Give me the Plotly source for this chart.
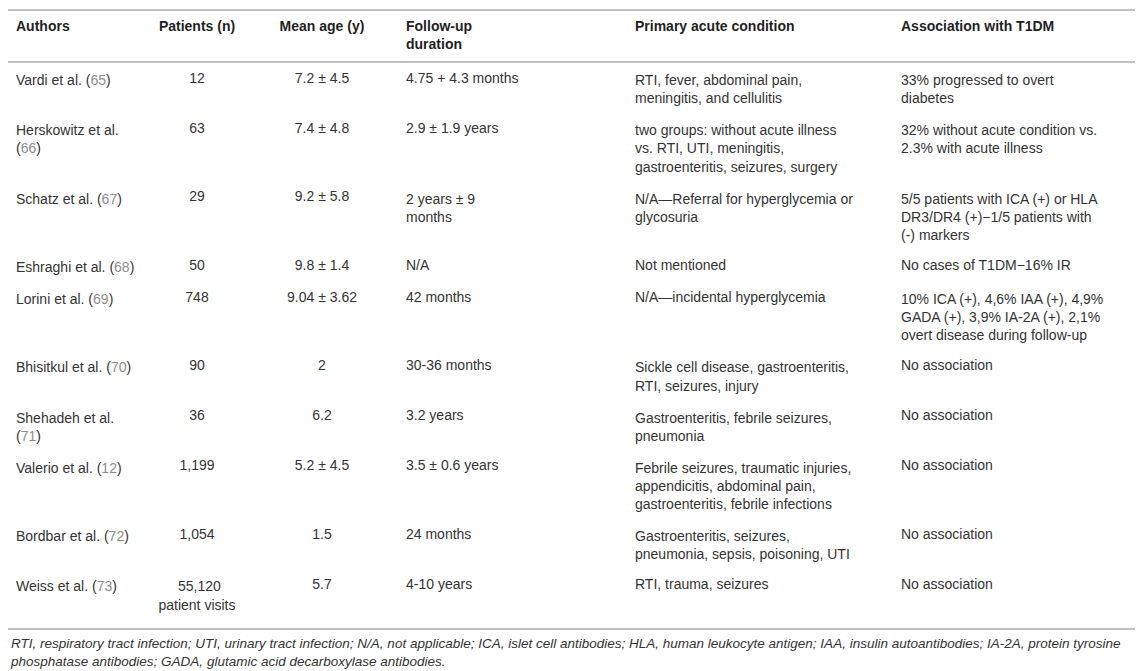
import plotly.graph_objects as go

# column headers
headers = [
    "Authors",
    "Patients (n)",
    "Mean age (y)",
    "Follow-up<br>duration",
    "Primary acute condition",
    "Association with T1DM",
]

authors = ["Vardi et al.", "Herskowitz et al.", "Schatz et al.", "Eshraghi et al.", "Lorini et al.",
           "Bhisitkul et al.", "Shehadeh et al.", "Valerio et al.", "Bordbar et al.", "Weiss et al."]
refs = ["65", "66", "67", "68", "69", "70", "71", "12", "72", "73"]
# authors that wrap the reference onto a second line
wrap_ref = [False, True, False, False, False, False, True, False, False, False]

patients = ["12", "63", "29", "50", "748", "90", "36", "1,199", "1,054",
            "\u00a0" * 5 + "55,120<br>patient visits"]
mean_age = ["7.2 ± 4.5", "7.4 ± 4.8", "9.2 ± 5.8", "9.8 ± 1.4", "9.04 ± 3.62", "2", "6.2",
            "5.2 ± 4.5", "1.5", "5.7"]
follow_up = ["4.75 + 4.3 months", "2.9 ± 1.9 years", "2 years ± 9<br>months", "N/A", "42 months",
             "30-36 months", "3.2 years", "3.5 ± 0.6 years", "24 months", "4-10 years"]
condition = [
    "RTI, fever, abdominal pain,<br>meningitis, and cellulitis",
    "two groups: without acute illness<br>vs. RTI, UTI, meningitis,<br>gastroenteritis, seizures, surgery",
    "N/A—Referral for hyperglycemia or<br>glycosuria",
    "Not mentioned",
    "N/A—incidental hyperglycemia",
    "Sickle cell disease, gastroenteritis,<br>RTI, seizures, injury",
    "Gastroenteritis, febrile seizures,<br>pneumonia",
    "Febrile seizures, traumatic injuries,<br>appendicitis, abdominal pain,<br>gastroenteritis, febrile infections",
    "Gastroenteritis, seizures,<br>pneumonia, sepsis, poisoning, UTI",
    "RTI, trauma, seizures",
]
association = [
    "33% progressed to overt<br>diabetes",
    "32% without acute condition vs.<br>2.3% with acute illness",
    "5/5 patients with ICA (+) or HLA<br>DR3/DR4 (+)−1/5 patients with<br>(-) markers",
    "No cases of T1DM−16% IR",
    "10% ICA (+), 4,6% IAA (+), 4,9%<br>GADA (+), 3,9% IA-2A (+), 2,1%<br>overt disease during follow-up",
    "No association",
    "No association",
    "No association",
    "No association",
    "No association",
]

footnote = ("RTI, respiratory tract infection; UTI, urinary tract infection; N/A, not applicable; "
            "ICA, islet cell antibodies; HLA, human leukocyte antigen; IAA, insulin autoantibodies; "
            "IA-2A, protein tyrosine<br>phosphatase antibodies; GADA, glutamic acid decarboxylase antibodies.")

FONT = "Liberation Sans, Arial, sans-serif"
TEXT = "#333333"
REF = "#8c8c8c"
RULE = "#bfbfbf"

# a <br> in every author cell keeps the table's own word wrap from splitting the span tag
author_cells = []
for name, ref, wrap in zip(authors, refs, wrap_ref):
    cite = f"(<span style='color:{REF}'>{ref}</span>)"
    if wrap:
        author_cells.append(f"{name}<br>{cite}")
    else:
        author_cells.append(f"{name} {cite}<br>")

# same trick for the header so "Patients (n)" stays on one line
header_cells = [f"<b>{h}</b>" if "<br>" in h else f"<b>{h}</b><br>" for h in headers]

fig = go.Figure(
    go.Table(
        columnwidth=[140, 98, 152, 229, 266, 258],
        header=dict(
            values=header_cells,
            align=["left", "center", "center", "left", "left", "left"],
            font=dict(family=FONT, size=14, color="#1f1f1f"),
            fill_color="white",
            line=dict(color="white", width=0),
            height=54,
        ),
        cells=dict(
            values=[author_cells, patients, mean_age, follow_up, condition, association],
            align=["left", "center", "center", "left", "left", "left"],
            font=dict(family=FONT, size=14, color=TEXT),
            fill_color="white",
            line=dict(color="white", width=0),
            height=26,
        ),
        domain=dict(x=[0, 1], y=[0, 1]),
    )
)

plot_h = 671 - 2
header_rule = 1 - 52 / plot_h
bottom_rule = 1 - 619 / plot_h

# horizontal rules of the table
for y in [1, header_rule, bottom_rule]:
    fig.add_shape(type="line", xref="paper", yref="paper", x0=0, x1=1, y0=y, y1=y,
                  line=dict(color=RULE, width=2))

fig.add_annotation(
    text=f"<i>{footnote}</i>",
    xref="paper", yref="paper", x=0, y=bottom_rule - 5 / plot_h,
    xanchor="left", yanchor="top", align="left", showarrow=False,
    font=dict(family=FONT, size=13.5, color=TEXT),
)

fig.update_layout(
    width=1143,
    height=671,
    margin=dict(l=0, r=0, t=2, b=0),
    paper_bgcolor="white",
    plot_bgcolor="white",
)

fig.write_html("out.html")
